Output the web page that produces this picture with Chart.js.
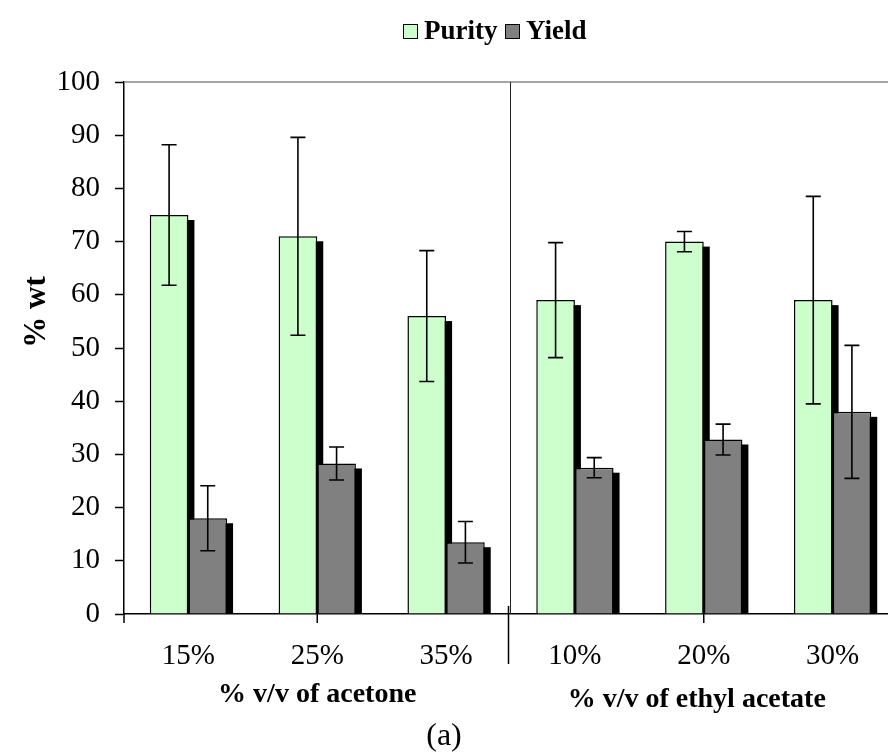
<!DOCTYPE html>
<html>
<head>
<meta charset="utf-8">
<script src="https://cdn.jsdelivr.net/npm/chart.js@4/dist/chart.umd.min.js"></script>
<style>
  html, body { margin: 0; padding: 0; background: #fff; overflow: hidden; }
  canvas { display: block; }
</style>
</head>
<body>
<canvas id="chart" width="900" height="753"></canvas>
<script>
const categories = ["15%", "25%", "35%", "10%", "20%", "30%"]
const purity = [75, 71, 56, 59, 70, 59]
const purityErr = [13.2, 18.6, 12.3, 10.8, 1.9, 19.5]
const yieldPct = [18, 28.3, 13.5, 27.5, 32.8, 38]
const yieldErr = [6.1, 3.1, 3.9, 1.9, 2.9, 12.5]
const yTicks = [0, 10, 20, 30, 40, 50, 60, 70, 80, 90, 100]

const serif = "'Liberation Serif', 'Times New Roman', serif"

// black drop shadow behind each bar
const barShadow = {
	id: "barShadow",
	beforeDatasetsDraw(chart) {
		const ctx = chart.ctx
		ctx.save()
		ctx.fillStyle = "#000"
		chart.data.datasets.forEach((ds, i) => {
			chart.getDatasetMeta(i).data.forEach((bar) => {
				const x0 = bar.x - bar.width / 2 + 6
				const y0 = bar.y + 5
				ctx.fillRect(x0, y0, bar.width, bar.base - y0)
			})
		})
		ctx.restore()
	},
}

// error bars from the err arrays attached to each dataset
const errorBars = {
	id: "errorBars",
	afterDatasetsDraw(chart) {
		const ctx = chart.ctx
		const y = chart.scales.y
		ctx.save()
		ctx.strokeStyle = "#000"
		ctx.lineWidth = 1.6
		chart.data.datasets.forEach((ds, i) => {
			chart.getDatasetMeta(i).data.forEach((bar, j) => {
				const v = ds.data[j]
				const e = ds.err[j]
				const top = y.getPixelForValue(v + e)
				const bot = y.getPixelForValue(v - e)
				ctx.beginPath()
				ctx.moveTo(bar.x, top)
				ctx.lineTo(bar.x, bot)
				ctx.moveTo(bar.x - 7.5, top)
				ctx.lineTo(bar.x + 7.5, top)
				ctx.moveTo(bar.x - 7.5, bot)
				ctx.lineTo(bar.x + 7.5, bot)
				ctx.stroke()
			})
		})
		ctx.restore()
	},
}

// frame top, group separator, x tick marks, legend and titles
const decorations = {
	id: "decorations",
	afterDraw(chart) {
		const ctx = chart.ctx
		const a = chart.chartArea
		const x = chart.scales.x
		const step = x.getPixelForValue(1) - x.getPixelForValue(0)
		const sep = (x.getPixelForValue(2) + x.getPixelForValue(3)) / 2
		ctx.save()

		ctx.strokeStyle = "#888"
		ctx.lineWidth = 1.5
		ctx.beginPath()
		ctx.moveTo(a.left, a.top)
		ctx.lineTo(a.right, a.top)
		ctx.stroke()

		ctx.strokeStyle = "#222"
		ctx.lineWidth = 1
		ctx.beginPath()
		ctx.moveTo(sep, a.top)
		ctx.lineTo(sep, a.bottom)
		ctx.stroke()

		ctx.strokeStyle = "#000"
		ctx.lineWidth = 1.5
		ctx.beginPath()
		;[x.getPixelForValue(0) - step / 2, x.getPixelForValue(1), x.getPixelForValue(4)].forEach((px) => {
			ctx.moveTo(px, a.bottom)
			ctx.lineTo(px, a.bottom + 9)
		})
		ctx.moveTo(sep - 2, a.bottom - 8)
		ctx.lineTo(sep - 2, a.bottom + 50)
		ctx.stroke()

		// legend
		ctx.font = "bold 27px " + serif
		ctx.textBaseline = "middle"
		ctx.textAlign = "left"
		ctx.lineWidth = 1
		const legendX = [403, 505]
		chart.data.datasets.forEach((ds, i) => {
			const lx = legendX[i]
			ctx.fillStyle = ds.backgroundColor
			ctx.fillRect(lx, 24, 15, 15)
			ctx.strokeRect(lx + 0.5, 24.5, 14, 14)
			ctx.fillStyle = "#000"
			ctx.fillText(ds.label, lx + 21, 32)
		})

		// axis titles
		ctx.textAlign = "center"
		ctx.font = "bold 28px " + serif
		ctx.fillText("% v/v of acetone", x.getPixelForValue(1), 695)
		ctx.fillText("% v/v of ethyl acetate", x.getPixelForValue(4) - 7, 700)
		ctx.font = "32px " + serif
		ctx.fillText("(a)", 444, 737)

		ctx.translate(37, 312)
		ctx.rotate(-Math.PI / 2)
		ctx.font = "bold 31px " + serif
		ctx.fillText("% wt", 0, 0)
		ctx.restore()
	},
}

const config = {
	type: "bar",
	data: {
		labels: categories,
		datasets: [
			{
				label: "Purity",
				data: purity,
				err: purityErr,
				backgroundColor: "#CCFFCC",
				borderColor: "#000",
				borderWidth: 1.5,
			},
			{
				label: "Yield",
				data: yieldPct,
				err: yieldErr,
				backgroundColor: "#808080",
				borderColor: "#000",
				borderWidth: 1.5,
			},
		],
	},
	options: {
		responsive: false,
		animation: false,
		layout: { padding: { top: 82, right: 3, left: 0, bottom: 0 } },
		datasets: { bar: { categoryPercentage: 0.6, barPercentage: 1 } },
		plugins: { legend: { display: false }, tooltip: { enabled: false } },
		scales: {
			x: {
				grid: { display: false, drawTicks: false },
				border: { display: true, color: "#000", width: 1.5 },
				ticks: { color: "#000", padding: 25, font: { family: serif, size: 29 } },
				afterFit(scale) { scale.height = 139 },
			},
			y: {
				min: 0,
				max: 100,
				grid: {
					drawOnChartArea: false,
					tickLength: 9,
					tickColor: "#000",
					tickWidth: 1.5,
				},
				border: { display: true, color: "#000", width: 1.5 },
				ticks: {
					stepSize: 5,
					padding: 15,
					color: "#000",
					font: { family: serif, size: 29 },
					callback: (v) => (yTicks.includes(v) ? v : ""),
				},
				afterFit(scale) { scale.width = 124 },
			},
		},
	},
	plugins: [barShadow, errorBars, decorations],
}

new Chart(document.getElementById("chart"), config)
</script>
</body>
</html>
